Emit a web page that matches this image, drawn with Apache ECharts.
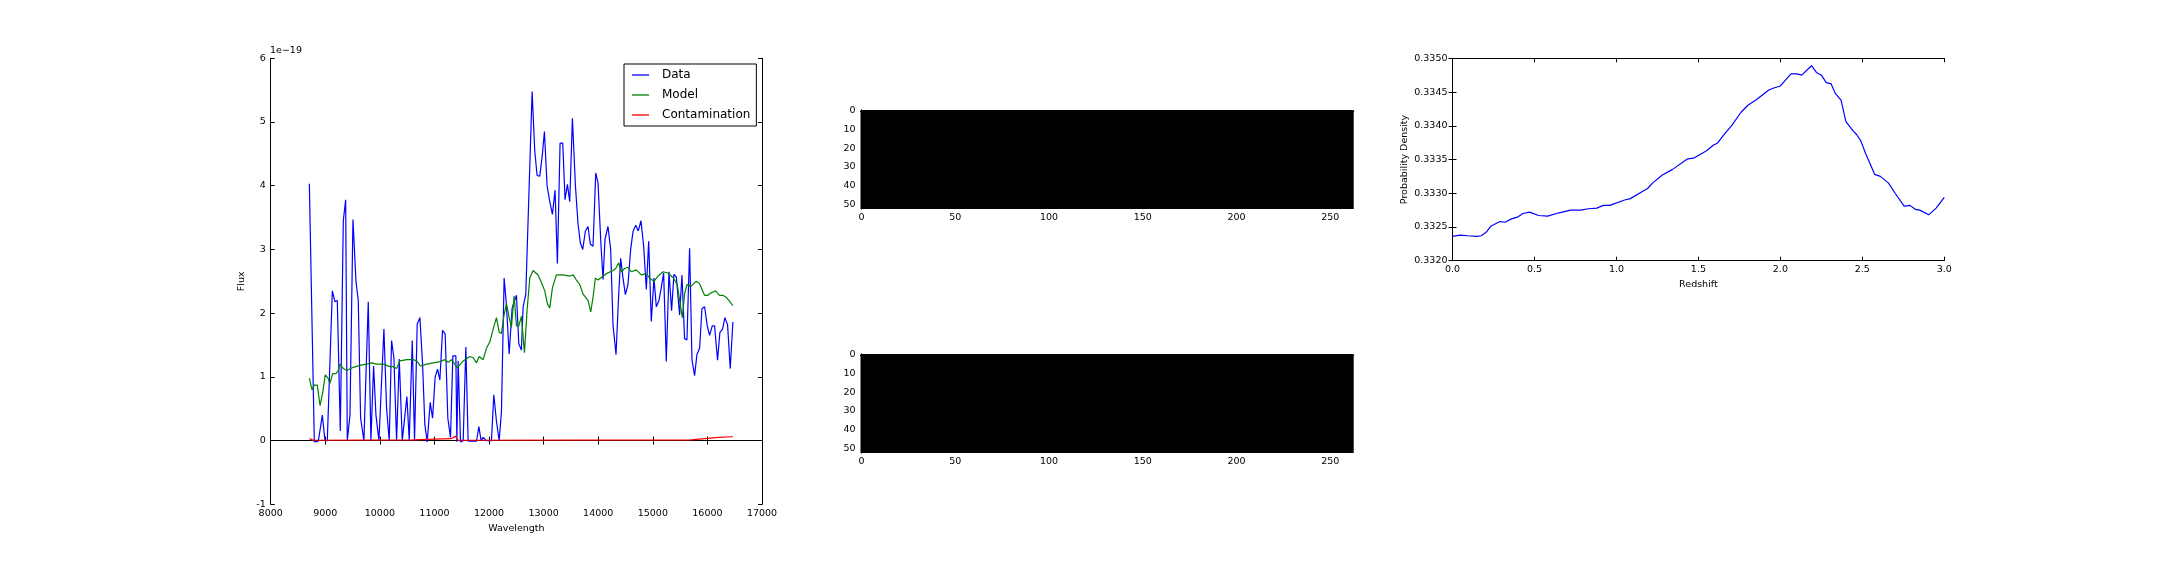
<!DOCTYPE html>
<html>
<head>
<meta charset="utf-8">
<script src="https://cdn.jsdelivr.net/npm/echarts@6/dist/echarts.min.js"></script>
<style>
html,body{margin:0;padding:0;background:#fff;}
#chart{width:2160px;height:576px;}
</style>
</head>
<body>
<div id="chart"></div>
<script>
// ---------- DATA ----------
const dataWave = [8708,8799,8872,8946,8994,9037,9129,9177,9220,9275,9330,9373,9403,9452,9507,9562,9604,9647,9708,9787,9836,9885,9928,9983,10074,10123,10172,10214,10257,10306,10355,10410,10440,10495,10538,10593,10635,10684,10733,10782,10824,10867,10922,10965,11013,11056,11099,11148,11196,11245,11294,11337,11392,11410,11434,11477,11526,11575,11617,11770,11813,11855,11892,11953,12044,12087,12136,12185,12227,12276,12319,12368,12423,12459,12502,12545,12593,12624,12673,12789,12837,12880,12929,12978,13014,13063,13112,13161,13209,13252,13301,13350,13392,13435,13478,13527,13582,13630,13673,13716,13765,13813,13856,13905,13954,13996,14045,14088,14124,14179,14228,14271,14326,14375,14411,14454,14497,14545,14594,14637,14686,14734,14783,14832,14881,14924,14972,15021,15064,15113,15155,15198,15247,15296,15344,15387,15430,15491,15534,15582,15625,15674,15717,15765,15808,15857,15900,15948,15997,16040,16089,16131,16186,16229,16278,16320,16369,16418,16467];
const dataFlux = [4.03,-0.02,-0.01,0.40,0.0,0.0,2.35,2.18,2.2,0.15,3.45,3.78,0.0,0.4,3.47,2.5,2.2,0.35,0.0,2.18,0.0,1.17,0.4,0.0,1.75,0.5,0.0,1.57,1.3,0.0,1.28,0.0,0.0,0.69,0.0,1.57,0.0,1.83,1.93,1.2,0.25,-0.02,0.6,0.35,1.0,1.12,0.95,1.73,1.67,0.35,0.05,1.33,1.33,-0.02,1.25,-0.02,0.0,1.47,-0.01,-0.01,0.22,0.0,0.05,0.0,0.0,0.72,0.3,0.0,0.45,2.55,2.12,1.36,2.08,2.05,2.28,1.52,1.42,2.1,2.3,5.48,4.55,4.16,4.15,4.5,4.85,4.0,3.75,3.55,3.93,2.78,4.67,4.67,3.78,4.02,3.75,5.06,4.0,3.4,3.1,3.0,3.29,3.36,3.08,3.05,4.2,4.05,3.15,2.53,3.16,3.36,3.0,1.81,1.35,2.3,2.86,2.55,2.29,2.45,3.0,3.28,3.38,3.29,3.45,3.05,2.37,3.13,1.87,2.55,2.1,2.2,2.4,2.63,1.24,2.65,2.04,2.61,2.57,1.97,2.6,1.6,1.58,3.02,1.27,1.02,1.35,1.45,2.07,2.1,1.8,1.65,1.8,1.8,1.26,1.7,1.75,1.93,1.82,1.13,1.86];

const modelWave = [8708,8756,8799,8854,8903,8952,9000,9049,9086,9135,9196,9238,9269,9330,9391,9513,9635,9757,9848,9940,10062,10123,10184,10245,10306,10367,10489,10611,10672,10745,10855,10977,11099,11190,11251,11312,11373,11416,11526,11648,11709,11770,11819,11892,11953,12014,12075,12136,12185,12227,12270,12319,12368,12410,12459,12502,12545,12593,12648,12697,12746,12807,12898,12959,13020,13069,13112,13161,13234,13356,13478,13539,13600,13661,13722,13813,13862,13905,13948,13996,14057,14149,14271,14320,14375,14423,14484,14545,14606,14698,14789,14881,14942,15021,15094,15186,15277,15369,15448,15491,15540,15582,15625,15698,15790,15851,15948,16009,16070,16149,16222,16283,16344,16467];
const modelFlux = [0.98,0.80,0.87,0.87,0.55,0.75,1.03,0.98,0.90,1.05,1.05,1.10,1.20,1.13,1.10,1.15,1.18,1.20,1.22,1.20,1.20,1.18,1.16,1.16,1.13,1.25,1.27,1.27,1.25,1.17,1.20,1.22,1.24,1.27,1.23,1.27,1.20,1.14,1.25,1.32,1.30,1.22,1.32,1.27,1.45,1.55,1.75,1.93,1.70,1.68,1.95,2.15,1.93,1.78,2.27,1.80,1.80,1.95,1.38,2.05,2.55,2.67,2.60,2.48,2.35,2.15,2.08,2.40,2.60,2.60,2.58,2.60,2.52,2.45,2.30,2.20,2.02,2.25,2.55,2.52,2.56,2.62,2.67,2.70,2.79,2.65,2.70,2.72,2.65,2.68,2.60,2.62,2.55,2.50,2.58,2.65,2.63,2.56,2.45,2.20,1.93,2.30,2.45,2.42,2.50,2.47,2.28,2.28,2.32,2.35,2.28,2.28,2.25,2.12];

const contamWave = [8708,8780,10600,11300,11390,11430,15700,16000,16200,16467];
const contamFlux = [0.03,0.005,0.01,0.03,0.07,0.005,0.01,0.035,0.05,0.06];

// image panels (all-black 2D images): columns x rows
const imageCols = 263;
const imageRows = 53;
const imageXTicks = [0,50,100,150,200,250];
const imageYTicks = [0,10,20,30,40,50];

const redshift = [0,0.047,0.093,0.15,0.175,0.205,0.233,0.29,0.32,0.36,0.4,0.43,0.47,0.525,0.58,0.65,0.72,0.78,0.83,0.88,0.92,0.96,1.05,1.085,1.14,1.19,1.22,1.28,1.34,1.435,1.47,1.55,1.59,1.615,1.65,1.705,1.76,1.8,1.855,1.93,1.96,2.0,2.065,2.1,2.13,2.19,2.22,2.25,2.28,2.31,2.335,2.37,2.4,2.445,2.465,2.49,2.52,2.575,2.61,2.66,2.7,2.755,2.79,2.825,2.85,2.905,2.95,3.0];
const probDensity = [0.33236,0.33238,0.33237,0.33236,0.33237,0.33242,0.33251,0.33258,0.33257,0.33262,0.33265,0.33270,0.33272,0.33267,0.33266,0.33271,0.33275,0.33275,0.33277,0.33278,0.33282,0.33282,0.33290,0.33292,0.33300,0.33307,0.33315,0.33327,0.33335,0.33351,0.33352,0.33363,0.33371,0.33374,0.33385,0.33401,0.33420,0.33430,0.33439,0.33453,0.33456,0.33459,0.33477,0.33477,0.33475,0.33489,0.33479,0.33475,0.33464,0.33462,0.33448,0.33438,0.33406,0.33392,0.33387,0.33378,0.33359,0.33328,0.33325,0.33315,0.33300,0.33281,0.33282,0.33276,0.33275,0.33268,0.33278,0.33294];

// ---------- CHART ----------
const FONT = 'DejaVu Sans';
const zip = (a, b) => a.map((v, i) => [v, b[i]]);

function frameAxes(gridIndex, xCfg, yCfg) {
  const line = {show: true, lineStyle: {color: '#000', width: 1}};
  const tick = {show: true, inside: true, length: 4, lineStyle: {color: '#000', width: 1}};
  const label = {color: '#000', fontFamily: FONT, fontSize: 9.5};
  const xa = [
    Object.assign({type: 'value', gridIndex, position: 'bottom', axisLine: line, axisTick: tick,
      splitLine: {show: false}, axisLabel: Object.assign({margin: 4}, label, xCfg.label || {}),
      nameLocation: 'middle', nameTextStyle: {color: '#000', fontFamily: FONT, fontSize: 9.5}}, xCfg.axis),
    Object.assign({type: 'value', gridIndex, position: 'top', axisLine: line, axisTick: tick,
      splitLine: {show: false}, axisLabel: {show: false}}, xCfg.axis, {name: ''})
  ];
  const ya = [
    Object.assign({type: 'value', gridIndex, position: 'left', axisLine: line, axisTick: tick,
      splitLine: {show: false}, axisLabel: Object.assign({margin: 5}, label, yCfg.label || {}),
      nameLocation: 'middle', nameRotate: 90, nameTextStyle: {color: '#000', fontFamily: FONT, fontSize: 9.5}}, yCfg.axis),
    Object.assign({type: 'value', gridIndex, position: 'right', axisLine: line, axisTick: tick,
      splitLine: {show: false}, axisLabel: {show: false}}, yCfg.axis, {name: ''})
  ];
  return {xa, ya};
}

const plain = v => String(v);
const g0 = frameAxes(0,
  {axis: {min: 8000, max: 17000, interval: 1000, name: 'Wavelength', nameGap: 16}, label: {formatter: plain}},
  {axis: {min: -1, max: 6, interval: 1, name: 'Flux', nameGap: 24.5}, label: {formatter: plain}});
const g1 = frameAxes(1,
  {axis: {min: -0.5, max: imageCols - 0.5, axisTick: {show: false}}, label: {customValues: imageXTicks, formatter: plain}},
  {axis: {min: -0.5, max: imageRows - 0.5, inverse: true, axisTick: {show: false}}, label: {customValues: imageYTicks, formatter: plain}});
const g2 = frameAxes(2,
  {axis: {min: -0.5, max: imageCols - 0.5, axisTick: {show: false}}, label: {customValues: imageXTicks, formatter: plain}},
  {axis: {min: -0.5, max: imageRows - 0.5, inverse: true, axisTick: {show: false}}, label: {customValues: imageYTicks, formatter: plain}});
const g3 = frameAxes(3,
  {axis: {min: 0, max: 3, interval: 0.5, name: 'Redshift', nameGap: 19}, label: {formatter: v => v.toFixed(1)}},
  {axis: {min: 0.332, max: 0.335, interval: 0.0005, name: 'Probability Density', nameGap: 43}, label: {formatter: v => v.toFixed(4)}});

const xAxes = [...g0.xa, ...g1.xa, ...g2.xa, ...g3.xa];
const yAxes = [...g0.ya, ...g1.ya, ...g2.ya, ...g3.ya];

function imageRect(params, api) {
  const p0 = api.coord([api.value(0), api.value(1)]);
  const p1 = api.coord([api.value(2), api.value(3)]);
  return {
    type: 'rect',
    shape: {x: Math.min(p0[0], p1[0]), y: Math.min(p0[1], p1[1]),
            width: Math.abs(p1[0] - p0[0]), height: Math.abs(p1[1] - p0[1])},
    style: {fill: '#000'}
  };
}
const imageData = [[-0.5, -0.5, imageCols - 0.5, imageRows - 0.5]];

const lineIcon = 'path://M0,0 L17,0 L17,1.3 L0,1.3 Z';
const chart = echarts.init(document.getElementById('chart'), null, {renderer: 'canvas'});
chart.setOption({
  backgroundColor: '#fff',
  animation: false,
  textStyle: {fontFamily: FONT},
  grid: [
    {left: 270.7, top: 58.3, width: 491.3, height: 446},
    {left: 860.5, top: 110, width: 493.2, height: 99},
    {left: 860.5, top: 354, width: 493.2, height: 99},
    {left: 1452.5, top: 58.3, width: 491.8, height: 202.4}
  ],
  xAxis: xAxes,
  yAxis: yAxes,
  legend: {
    orient: 'vertical', left: 624, top: 64,
    padding: [5, 6, 5, 8], itemGap: 8, itemWidth: 17, itemHeight: 11,
    borderColor: '#000', borderWidth: 1, borderRadius: 0,
    textStyle: {fontFamily: FONT, fontSize: 12, color: '#000', padding: [0, 0, 0, 8]},
    data: [
      {name: 'Data', icon: lineIcon},
      {name: 'Model', icon: lineIcon},
      {name: 'Contamination', icon: lineIcon}
    ]
  },
  graphic: [
    {type: 'text', left: 270, top: 46, style: {text: '1e\u221219', fontFamily: FONT, fontSize: 9.5, fill: '#000'}}
  ],
  series: [
    {name: 'Data', type: 'line', xAxisIndex: 0, yAxisIndex: 0, data: zip(dataWave, dataFlux),
      showSymbol: false, symbol: 'none', lineStyle: {color: '#0000ff', width: 1.2}, itemStyle: {color: '#0000ff'}, z: 3},
    {name: 'Model', type: 'line', xAxisIndex: 0, yAxisIndex: 0, data: zip(modelWave, modelFlux),
      showSymbol: false, symbol: 'none', lineStyle: {color: '#008000', width: 1.2}, itemStyle: {color: '#008000'}, z: 4},
    {name: 'Contamination', type: 'line', xAxisIndex: 0, yAxisIndex: 0, data: zip(contamWave, contamFlux),
      showSymbol: false, symbol: 'none', lineStyle: {color: '#ff0000', width: 1.2}, itemStyle: {color: '#ff0000'}, z: 5},
    {type: 'custom', xAxisIndex: 2, yAxisIndex: 2, renderItem: imageRect, data: imageData, silent: true},
    {type: 'custom', xAxisIndex: 4, yAxisIndex: 4, renderItem: imageRect, data: imageData, silent: true},
    {name: 'P(z)', type: 'line', xAxisIndex: 6, yAxisIndex: 6, data: zip(redshift, probDensity),
      showSymbol: false, symbol: 'none', lineStyle: {color: '#0000ff', width: 1.2}}
  ]
});
</script>
</body>
</html>
